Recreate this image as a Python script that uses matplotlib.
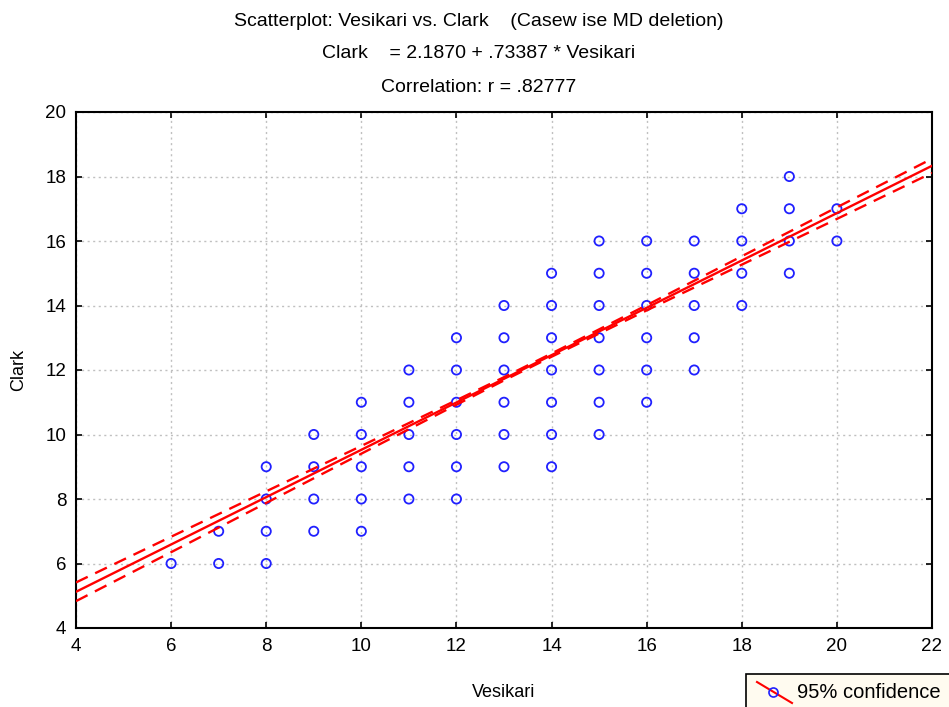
import matplotlib
matplotlib.use("Agg")
import matplotlib.pyplot as plt
from matplotlib.lines import Line2D
from matplotlib.patches import Rectangle

plt.rcParams['font.family'] = ['Liberation Sans', 'DejaVu Sans']

# Datos: puntos (Vesikari, Clark)
vesikari = [6,
            7, 7,
            8, 8, 8, 8,
            9, 9, 9, 9,
            10, 10, 10, 10, 10,
            11, 11, 11, 11, 11,
            12, 12, 12, 12, 12, 12,
            13, 13, 13, 13, 13, 13,
            14, 14, 14, 14, 14, 14, 14,
            15, 15, 15, 15, 15, 15, 15,
            16, 16, 16, 16, 16, 16,
            17, 17, 17, 17, 17,
            18, 18, 18, 18,
            19, 19, 19, 19,
            20, 20]
clark = [6,
         6, 7,
         6, 7, 8, 9,
         7, 8, 9, 10,
         7, 8, 9, 10, 11,
         8, 9, 10, 11, 12,
         8, 9, 10, 11, 12, 13,
         9, 10, 11, 12, 13, 14,
         9, 10, 11, 12, 13, 14, 15,
         10, 11, 12, 13, 14, 15, 16,
         11, 12, 13, 14, 15, 16,
         12, 13, 14, 15, 16,
         14, 15, 16, 17,
         15, 16, 17, 18,
         16, 17]

# Recta de regresión
intercepto = 2.1870
pendiente = 0.73387

# Semiancho de la banda de confianza
banda_x = [4, 6, 8, 10, 12, 13, 14, 16, 18, 20, 22]
banda_hw = [0.29, 0.24, 0.18, 0.12, 0.07, 0.05, 0.05, 0.08, 0.13, 0.18, 0.22]

rojo = '#ff0000'
azul = '#2020ff'

fig = plt.figure(figsize=(9.49, 7.07), dpi=100)
ax = fig.add_axes([76 / 949, 79 / 707, 856 / 949, 516 / 707])

ax.scatter(vesikari, clark, s=44, facecolors='none', edgecolors=azul,
           linewidths=1.3, zorder=3)

linea = [intercepto + pendiente * x for x in banda_x]
sup = [y + h for y, h in zip(linea, banda_hw)]
inf = [y - h for y, h in zip(linea, banda_hw)]
ax.plot(banda_x, linea, color=rojo, lw=1.7, zorder=4)
ax.plot(banda_x, sup, color=rojo, lw=1.7, ls=(0, (5.5, 3.5)), zorder=4)
ax.plot(banda_x, inf, color=rojo, lw=1.7, ls=(0, (5.5, 3.5)), zorder=4)

ax.set_xlim(4, 22)
ax.set_ylim(4, 20)
ax.set_xticks(range(4, 23, 2))
ax.set_yticks(range(4, 21, 2))
ax.grid(True, color='#c0c0c0', ls=(0, (1.5, 2.5)), lw=1)
ax.tick_params(direction='in', length=4, width=1.2, top=True, right=True,
               labelsize=13.5, pad=7, colors='black')
for s in ax.spines.values():
    s.set_linewidth(1.5)
    s.set_color('black')

ax.set_xlabel('Vesikari', fontsize=13, labelpad=21)
ax.set_ylabel('Clark', fontsize=13, labelpad=13)

fig.text(0.504, 1 - 21 / 707, 'Scatterplot: Vesikari vs. Clark    (Casew ise MD deletion)',
         ha='center', va='center', fontsize=14)
fig.text(0.504, 1 - 54 / 707, 'Clark    = 2.1870 + .73387 * Vesikari',
         ha='center', va='center', fontsize=14)
fig.text(0.504, 1 - 88 / 707, 'Correlation: r = .82777',
         ha='center', va='center', fontsize=14)

# Leyenda recortada en la esquina inferior derecha
fig.add_artist(Rectangle((746 / 949, -0.02), 0.3, (707 - 674) / 707 + 0.02,
                         transform=fig.transFigure, facecolor='#fffbf0',
                         edgecolor='black', lw=1.2))
fig.add_artist(Line2D([757 / 949, 792 / 949], [1 - 682 / 707, 1 - 703 / 707],
                      transform=fig.transFigure, color=rojo, lw=1.5))
fig.add_artist(Line2D([773 / 949], [1 - 692 / 707], transform=fig.transFigure,
                      marker='o', ms=6.5, mfc='none', mec=azul, mew=1.2))
fig.text(797 / 949, 1 - 692 / 707, '95% confidence', ha='left', va='center',
         fontsize=14.5)

fig.savefig('out.png', dpi=100)
